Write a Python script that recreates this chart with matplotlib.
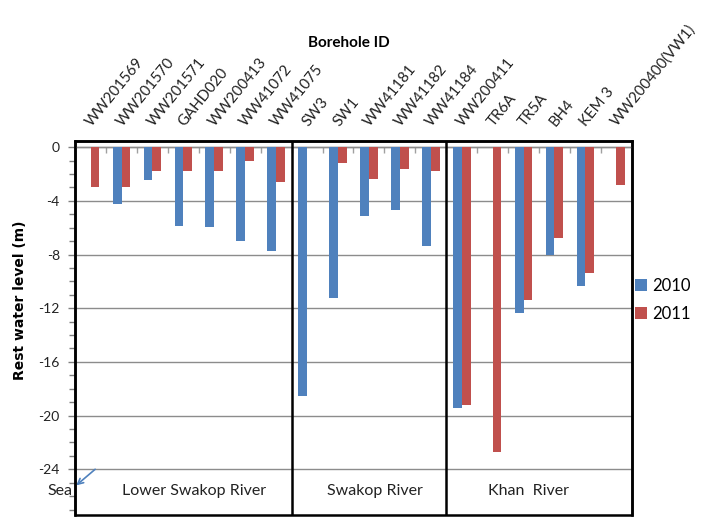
import numpy as np
import matplotlib.pyplot as plt
from matplotlib.ticker import MultipleLocator

plt.rcParams['font.family'] = ['Lato', 'DejaVu Sans']

boreholes = ['WW201569', 'WW201570', 'WW201571', 'GAHD020', 'WW200413', 'WW41072',
             'WW41075', 'SW3', 'SW1', 'WW41181', 'WW41182', 'WW41184', 'WW200411',
             'TR6A', 'TR5A', 'BH4', 'KEM 3', 'WW200400(VW1)']
level_2010 = [np.nan, -4.2, -2.45, -5.85, -5.95, -7.0, -7.7, -18.55, -11.25, -5.1, -4.7,
              -7.35, -19.4, np.nan, -12.35, -8.0, -10.35, np.nan]
level_2011 = [-3.0, -3.0, -1.8, -1.75, -1.8, -1.0, -2.6, np.nan, -1.15, -2.35, -1.65,
              -1.75, -19.2, -22.7, -11.35, -6.75, -9.4, -2.8]
regions = ['Lower Swakop River', 'Swakop River', 'Khan  River']
region_x = [3.35, 9.2, 14.17]
dividers = [6.5, 11.5]

blue = '#4F81BD'
red = '#C0504D'

fig = plt.figure(figsize=(7.02, 5.18), dpi=100)
ax = fig.add_axes([0.107, 0.006, 0.793, 0.722])

x = np.arange(len(boreholes))
w = 0.285
ax.bar(x - w / 2, level_2010, w, color=blue, label='2010', zorder=3)
ax.bar(x + w / 2, level_2011, w, color=red, label='2011', zorder=3)

ax.set_xlim(-0.5, len(boreholes) - 0.5)
ax.set_ylim(-27.4, 0.47)

# y axis
ax.set_yticks(np.arange(-24, 1, 4))
ax.yaxis.set_minor_locator(MultipleLocator(1))
ax.yaxis.set_major_formatter(plt.FuncFormatter(lambda v, p: '%d' % v))
ax.tick_params(axis='y', which='major', length=5, width=1, color='#808080',
               labelsize=10, labelcolor='#222222', pad=6)
ax.tick_params(axis='y', which='minor', length=4, width=1, color='#808080')
ax.yaxis.grid(True, which='major', color='#8c8c8c', linewidth=1)
ax.set_axisbelow(True)

# x axis: category boundary marks at y = 0, names written above the frame
ax.set_xticks(x)
ax.set_xticks(np.arange(0.5, len(boreholes) - 1, 1), minor=True)
ax.tick_params(axis='x', which='major', top=False, bottom=False, labeltop=False,
               labelbottom=False, length=0)
ax.tick_params(axis='x', which='minor', top=False, bottom=True, direction='out',
               length=4, width=1, color='#a0a0a0')
for i, name in enumerate(boreholes):
    ax.annotate(name, xy=(i, 1), xycoords=ax.get_xaxis_transform(),
                xytext=(0.7, 10.3), textcoords='offset points', rotation=51,
                rotation_mode='anchor', ha='left', va='baseline', fontsize=10.8,
                color='#222222', annotation_clip=False)

ax.spines['bottom'].set_position(('data', 0))
ax.spines['bottom'].set_color('#8c8c8c')
ax.spines['bottom'].set_linewidth(1)
for s in ['top', 'left', 'right']:
    ax.spines[s].set_color('black')
    ax.spines[s].set_linewidth(1.8)
ax.add_patch(plt.Rectangle((0, 0), 1, 1, transform=ax.transAxes, fill=False,
                           edgecolor='black', linewidth=1.8, zorder=5, clip_on=False))

# region dividers and names
for xpos, name in zip(region_x, regions):
    ax.text(xpos, -25.6, name, ha='center', va='center', fontsize=11.5,
            color='#222222')
for d in dividers:
    ax.axvline(d, color='black', linewidth=1.8, zorder=4)

ax.text(-0.005, -25.6, 'Sea', transform=ax.get_yaxis_transform(), ha='right',
        va='center', fontsize=11.5, color='#222222')
ax.annotate('', xy=(0.002, -25.2), xytext=(0.036, -24.0),
            xycoords=ax.get_yaxis_transform(), textcoords=ax.get_yaxis_transform(),
            arrowprops=dict(arrowstyle='->', color='#4F81BD', lw=1.2,
                            shrinkA=0, shrinkB=0), annotation_clip=False)

fig.text(0.497, 0.917, 'Borehole ID', ha='center', va='center', fontsize=11,
         fontweight='bold')
fig.text(0.028, 0.42, 'Rest water level (m)', ha='center', va='center',
         rotation=90, fontsize=10, fontweight='bold', family='DejaVu Sans')

ax.legend(loc='center left', bbox_to_anchor=(0.985, 0.575), frameon=False,
          fontsize=12, handlelength=0.7, handleheight=0.7, handletextpad=0.3,
          labelspacing=0.75, borderaxespad=0.3)

fig.savefig('out.png', dpi=100)
